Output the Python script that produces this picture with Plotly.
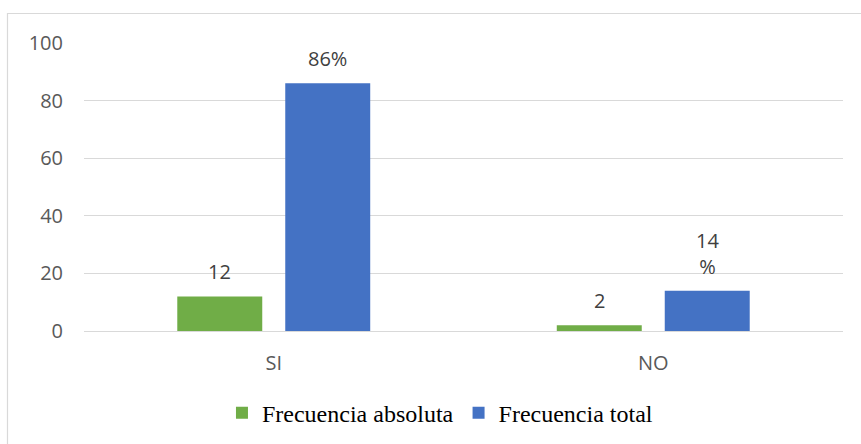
import plotly.graph_objects as go

categories = ["SI", "NO"]
frecuencia_absoluta = [12, 2]
frecuencia_total = [86, 14]
labels_absoluta = ["12", "2"]
labels_total = ["86%", "14<br>%"]
y_ticks = [0, 20, 40, 60, 80, 100]

GREEN = "#70AD47"
BLUE = "#4472C4"
GRID = "#D9D9D9"

W, H = 861, 444
ML, MR, MT, MB = 84, 18, 43, 113

fig = go.Figure()
fig.add_trace(go.Bar(name="Frecuencia absoluta", x=categories, y=frecuencia_absoluta,
                     marker_color=GREEN, marker_line_width=0))
fig.add_trace(go.Bar(name="Frecuencia total", x=categories, y=frecuencia_total,
                     marker_color=BLUE, marker_line_width=0))

label_font = dict(family="Open Sans", size=20, color="#404040")
for cat, v, t in zip(categories, frecuencia_absoluta, labels_absoluta):
    fig.add_annotation(x=cat, y=v, text=t, showarrow=False, xshift=-54, yshift=9,
                       yanchor="bottom", font=label_font)
for cat, v, t in zip(categories, frecuencia_total, labels_total):
    fig.add_annotation(x=cat, y=v, text=t, showarrow=False, xshift=54, yshift=9,
                       yanchor="bottom", font=label_font)

pw = W - ML - MR
ph = H - MT - MB
bx = (7.5 - ML) / pw
by = 1 + (MT - 13.5) / ph
fig.add_shape(type="rect", xref="paper", yref="paper", x0=bx, x1=1.2, y0=-0.6, y1=by,
              line=dict(color=GRID, width=1.2), fillcolor="rgba(0,0,0,0)", layer="below")

fig.update_layout(
    width=W, height=H,
    margin=dict(l=ML, r=MR, t=MT, b=MB, autoexpand=False),
    paper_bgcolor="white", plot_bgcolor="white",
    barmode="group", bargap=0.431, bargroupgap=0.213,
    showlegend=True,
    legend=dict(orientation="h", x=0.469, xanchor="center", y=-0.285, yanchor="middle",
                font=dict(family="Liberation Serif", size=24, color="black"),
                itemwidth=30, traceorder="normal"),
    xaxis=dict(type="category", showgrid=False, showline=False, zeroline=False,
               automargin=False,
               tickfont=dict(family="Open Sans", size=20, color="#595959"),
               ticklabelstandoff=18),
    yaxis=dict(range=[0, 100], tickvals=y_ticks, showgrid=True, gridcolor=GRID, gridwidth=1,
               zeroline=True, zerolinecolor=GRID, zerolinewidth=1, showline=False,
               automargin=False,
               tickfont=dict(family="Open Sans", size=20, color="#595959"),
               ticklabelstandoff=20),
)

fig.write_html("out.html", config={"displayModeBar": False},
               post_script="document.body.style.margin='0';document.body.style.overflow='hidden';")
